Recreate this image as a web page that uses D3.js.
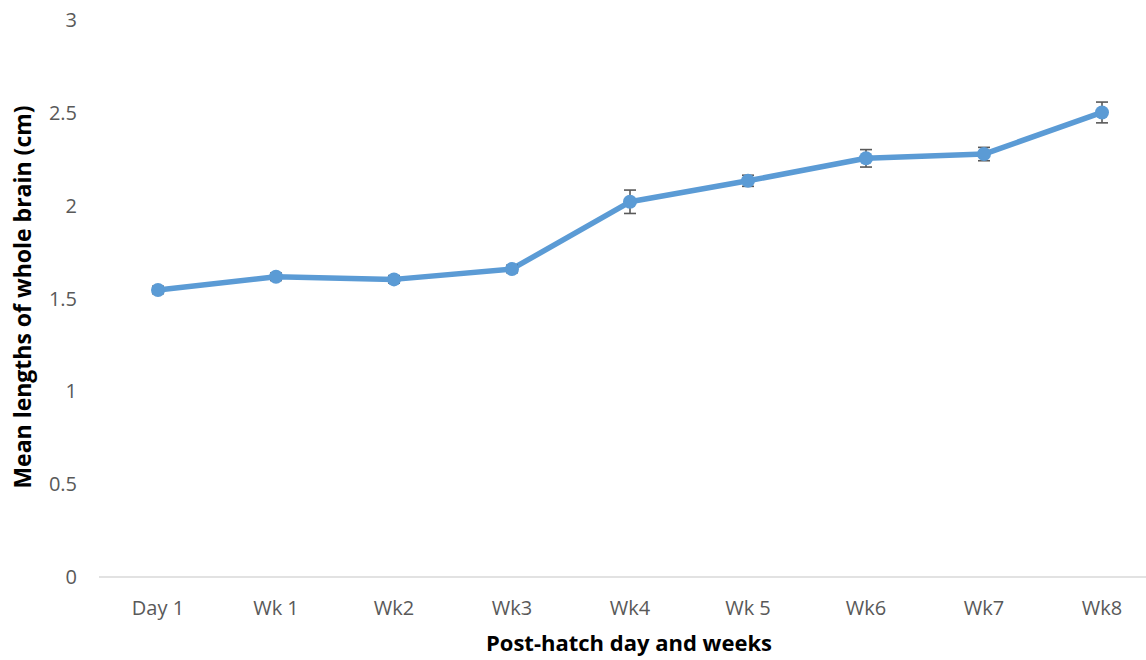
<!DOCTYPE html>
<html><head><meta charset="utf-8">
<script src="https://cdn.jsdelivr.net/npm/d3@7"></script>
<style>body{margin:0;background:#fff;}svg{display:block;}</style>
</head><body>
<script>
const categories = ["Day 1","Wk 1","Wk2","Wk3","Wk4","Wk 5","Wk6","Wk7","Wk8"];
const meanLengths = [1.546,1.617,1.603,1.659,2.021,2.134,2.255,2.278,2.502];
const errors = [0.02,0.02,0.02,0.02,0.063,0.03,0.047,0.036,0.056];
const yTicks = [0,0.5,1,1.5,2,2.5,3];
const xTitle = "Post-hatch day and weeks";
const yTitle = "Mean lengths of whole brain (cm)";

const W=1146,H=660;
const svg=d3.select("body").append("svg").attr("width",W).attr("height",H);
const x=d3.scaleBand().domain(categories).range([99,1161]);
const y=d3.scaleLinear().domain([0,3]).range([577,20]);
const cx=d=>x(d)+x.bandwidth()/2;

svg.append("line").attr("x1",99).attr("x2",W).attr("y1",y(0)).attr("y2",y(0))
  .attr("stroke","#d9d9d9").attr("stroke-width",1.5);

const font="'Open Sans', sans-serif";
svg.append("g").selectAll("text").data(yTicks).join("text")
  .attr("x",77).attr("y",d=>y(d)).attr("dy","0.35em").attr("text-anchor","end")
  .attr("font-family",font).attr("font-size",20).attr("fill","#595959").text(d=>d);
svg.append("g").selectAll("text").data(categories).join("text")
  .attr("x",d=>cx(d)).attr("y",615).attr("text-anchor","middle")
  .attr("font-family",font).attr("font-size",20).attr("fill","#595959").text(d=>d);

svg.append("text").attr("x",629).attr("y",651).attr("text-anchor","middle")
  .attr("font-family",font).attr("font-weight","bold").attr("font-size",22).attr("fill","#000").text(xTitle);
svg.append("text").attr("transform","translate(31,297) rotate(-90)").attr("text-anchor","middle")
  .attr("font-family",font).attr("font-weight","bold").attr("font-size",23).attr("fill","#000").text(yTitle);

const data=categories.map((c,i)=>({c,v:meanLengths[i],e:errors[i]}));
svg.append("path").datum(data)
  .attr("d",d3.line().x(d=>cx(d.c)).y(d=>y(d.v)))
  .attr("fill","none").attr("stroke","#5B9BD5").attr("stroke-width",5.5).attr("stroke-linejoin","round");

const eb=svg.append("g").attr("stroke","#595959").attr("stroke-width",1.6);
data.forEach(d=>{
  const X=cx(d.c);
  eb.append("line").attr("x1",X).attr("x2",X).attr("y1",y(d.v+d.e)).attr("y2",y(d.v-d.e));
  eb.append("line").attr("x1",X-6).attr("x2",X+6).attr("y1",y(d.v+d.e)).attr("y2",y(d.v+d.e));
  eb.append("line").attr("x1",X-6).attr("x2",X+6).attr("y1",y(d.v-d.e)).attr("y2",y(d.v-d.e));
});
svg.append("g").selectAll("circle").data(data).join("circle")
  .attr("cx",d=>cx(d.c)).attr("cy",d=>y(d.v)).attr("r",7).attr("fill","#5B9BD5");
</script>
</body></html>
